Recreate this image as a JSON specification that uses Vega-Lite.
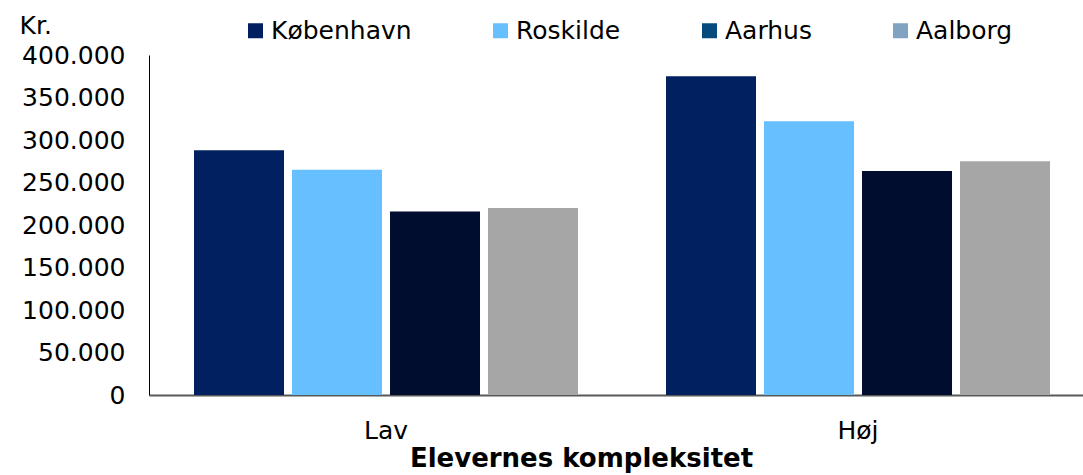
{
  "$schema": "https://vega.github.io/schema/vega-lite/v6.json",
  "width": 934,
  "height": 340,
  "autosize": {"type": "none"},
  "padding": {"left": 149, "top": 55, "right": 0, "bottom": 80},
  "config": {
    "view": {"stroke": null},
    "font": "DejaVu Sans",
    "axis": {"grid": false, "ticks": false, "labelColor": "#000000", "titleColor": "#000000"},
    "legend": {"padding": 0}
  },
  "data": {
    "values": [
      {"kompleksitet": "Lav", "by": "København", "vaerdi": 288000},
      {"kompleksitet": "Lav", "by": "Roskilde", "vaerdi": 265000},
      {"kompleksitet": "Lav", "by": "Aarhus", "vaerdi": 216000},
      {"kompleksitet": "Lav", "by": "Aalborg", "vaerdi": 220000},
      {"kompleksitet": "Høj", "by": "København", "vaerdi": 375000},
      {"kompleksitet": "Høj", "by": "Roskilde", "vaerdi": 322000},
      {"kompleksitet": "Høj", "by": "Aarhus", "vaerdi": 263500},
      {"kompleksitet": "Høj", "by": "Aalborg", "vaerdi": 275000}
    ]
  },
  "encoding": {
    "x": {
      "field": "kompleksitet",
      "type": "nominal",
      "sort": ["Lav", "Høj"],
      "scale": {"paddingInner": 0.1864, "paddingOuter": 0.0826, "align": 0.577},
      "axis": {
        "title": "Elevernes kompleksitet",
        "labelAngle": 0,
        "labelFontSize": 25,
        "labelPadding": 23,
        "domainColor": "#595959",
        "domainWidth": 2,
        "titleFontSize": 26,
        "titleFontWeight": "bold",
        "titleX": 432,
        "titleY": 71,
        "titleAlign": "center",
        "titleAnchor": null,
        "titleBaseline": "alphabetic"
      }
    },
    "xOffset": {
      "field": "by",
      "type": "nominal",
      "sort": ["København", "Roskilde", "Aarhus", "Aalborg"],
      "scale": {"paddingInner": 0.0816, "paddingOuter": 0}
    },
    "y": {
      "field": "vaerdi",
      "type": "quantitative",
      "scale": {"domain": [0, 400000], "nice": false},
      "axis": {
        "title": "Kr.",
        "values": [0, 50000, 100000, 150000, 200000, 250000, 300000, 350000, 400000],
        "labelExpr": "replace(format(datum.value, ','), ',', '.')",
        "labelFontSize": 25,
        "labelPadding": 24,
        "domainColor": "#000000",
        "domainWidth": 1,
        "titleAngle": 0,
        "titleFontSize": 25,
        "titleFontWeight": "normal",
        "titleAlign": "left",
        "titleBaseline": "alphabetic",
        "titleAnchor": null,
        "titleX": -130,
        "titleY": -22
      }
    }
  },
  "layer": [
    {
      "mark": {"type": "bar"},
      "encoding": {
        "color": {
          "field": "by",
          "type": "nominal",
          "scale": {
            "domain": ["København", "Roskilde", "Aarhus", "Aalborg"],
            "range": ["#002060", "#66bfff", "#000d2e", "#a6a6a6"]
          },
          "legend": null
        }
      }
    },
    {
      "mark": {"type": "bar", "opacity": 0},
      "encoding": {
        "color": {
          "field": "by",
          "type": "nominal",
          "scale": {
            "domain": ["København", "Roskilde", "Aarhus", "Aalborg"],
            "range": ["#002060", "#66bfff", "#044a7c", "#7fa3c0"]
          },
          "legend": {
            "title": null,
            "orient": "none",
            "direction": "horizontal",
            "legendX": 94,
            "legendY": -37,
            "columns": 4,
            "columnPadding": 76,
            "symbolType": "square",
            "symbolSize": 225,
            "symbolOpacity": 1,
            "symbolStrokeWidth": 0,
            "labelFontSize": 25,
            "labelOffset": 3,
            "labelColor": "#000000"
          }
        }
      }
    }
  ],
  "resolve": {"scale": {"color": "independent"}}
}
